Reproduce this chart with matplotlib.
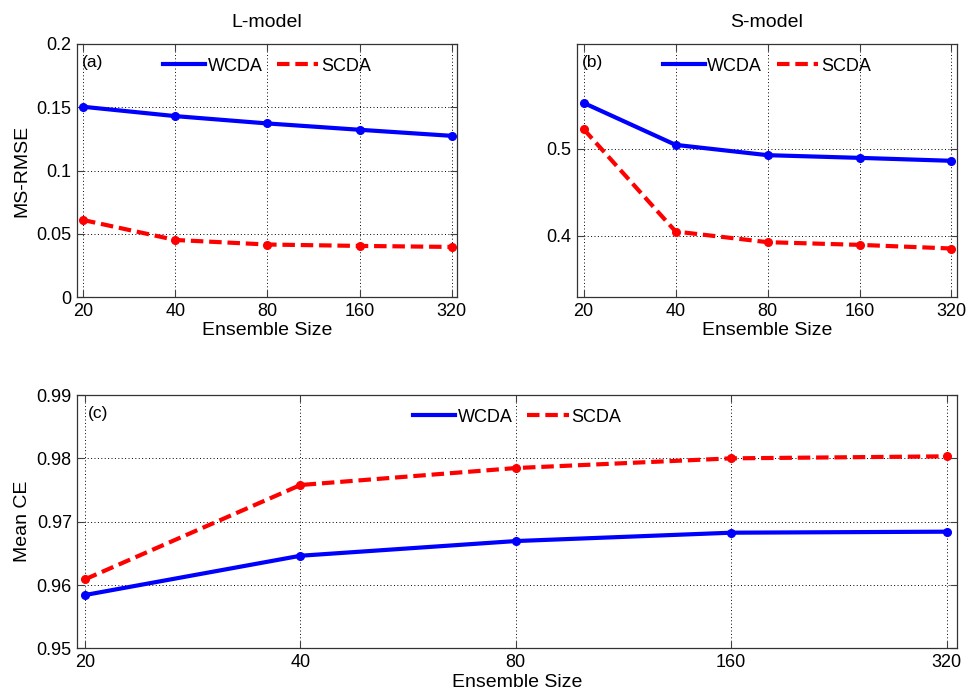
import matplotlib
matplotlib.use("Agg")
import matplotlib.pyplot as plt
from matplotlib.lines import Line2D
from matplotlib.ticker import FixedLocator

plt.rcParams['font.family'] = ['Liberation Sans', 'DejaVu Sans']

ens_sizes = ["20", "40", "80", "160", "320"]

# L-model MS-RMSE
l_wcda = [0.1504, 0.1430, 0.1372, 0.1322, 0.1274]
l_scda = [0.0609, 0.0451, 0.0415, 0.0404, 0.0396]

# S-model MS-RMSE
s_wcda = [0.553, 0.5046, 0.4927, 0.4896, 0.4862]
s_scda = [0.5227, 0.4046, 0.3923, 0.3892, 0.3850]

# mean CE
ce_wcda = [0.95842, 0.96462, 0.96694, 0.96826, 0.96842]
ce_scda = [0.9609, 0.97579, 0.97847, 0.98000, 0.98032]

l_yticks = [0, 0.05, 0.1, 0.15, 0.2]
l_ylabels = ["0", "0.05", "0.1", "0.15", "0.2"]
s_yticks = [0.4, 0.5]
s_ylabels = ["0.4", "0.5"]
ce_yticks = [0.95, 0.96, 0.97, 0.98, 0.99]
ce_ylabels = ["0.95", "0.96", "0.97", "0.98", "0.99"]

BLUE = "#0000ff"
RED = "#ff0000"
DASH = (3.0, 1.4)


def draw(ax, wcda, scda, tag, xlo, xhi):
    xs = list(range(len(ens_sizes)))
    ax.plot(xs, wcda, color=BLUE, lw=3.0, marker="o", ms=5.5)
    ax.plot(xs, scda, color=RED, lw=3.0, marker="o", ms=5.5, dashes=DASH)
    ax.set_xlim(xlo, xhi)
    ax.set_xticks(xs)
    ax.set_xticklabels(ens_sizes)
    ax.grid(True, color="k", linestyle=(0, (1, 2.5)), linewidth=0.7)
    ax.tick_params(direction="in", top=True, right=True, length=5,
                   labelsize=13, pad=4, color="0.25")
    for s in ax.spines.values():
        s.set_color("0.2")
        s.set_linewidth(0.9)
    ax.set_xlabel("Ensemble Size", fontsize=14, labelpad=2)
    ax.text(0.012, 0.955, tag, transform=ax.transAxes, fontsize=12.5,
            va="top", ha="left")
    # legend shows the line styles only, no markers
    handles = [Line2D([], [], color=BLUE, lw=3.0),
               Line2D([], [], color=RED, lw=3.0, dashes=DASH)]
    ax.legend(handles, ["WCDA", "SCDA"], loc="upper center", ncol=2,
              frameon=False, fontsize=13, handlelength=2.3,
              handletextpad=0.15, columnspacing=0.8, borderaxespad=0.35)


fig = plt.figure(figsize=(9.7, 6.94), dpi=100)

ax1 = fig.add_axes([0.0794, 0.5720, 0.3918, 0.3646])
draw(ax1, l_wcda, l_scda, "(a)", -0.065, 4.057)
ax1.set_ylim(0, 0.2)
ax1.yaxis.set_major_locator(FixedLocator(l_yticks))
ax1.set_yticklabels(l_ylabels)
ax1.set_ylabel("MS-RMSE", fontsize=14, labelpad=4)
ax1.set_title("L-model", fontsize=14, pad=12)

ax2 = fig.add_axes([0.5948, 0.5720, 0.3918, 0.3646])
draw(ax2, s_wcda, s_scda, "(b)", -0.073, 4.06)
ax2.set_ylim(0.329, 0.621)
ax2.yaxis.set_major_locator(FixedLocator(s_yticks))
ax2.set_yticklabels(s_ylabels)
ax2.set_title("S-model", fontsize=14, pad=12)

ax3 = fig.add_axes([0.0797, 0.0658, 0.9072, 0.3650])
draw(ax3, ce_wcda, ce_scda, "(c)", -0.036, 4.05)
ax3.set_ylim(0.95, 0.99)
ax3.yaxis.set_major_locator(FixedLocator(ce_yticks))
ax3.set_yticklabels(ce_ylabels)
ax3.set_ylabel("Mean CE", fontsize=14, labelpad=4)

fig.savefig("out.png", dpi=100)
